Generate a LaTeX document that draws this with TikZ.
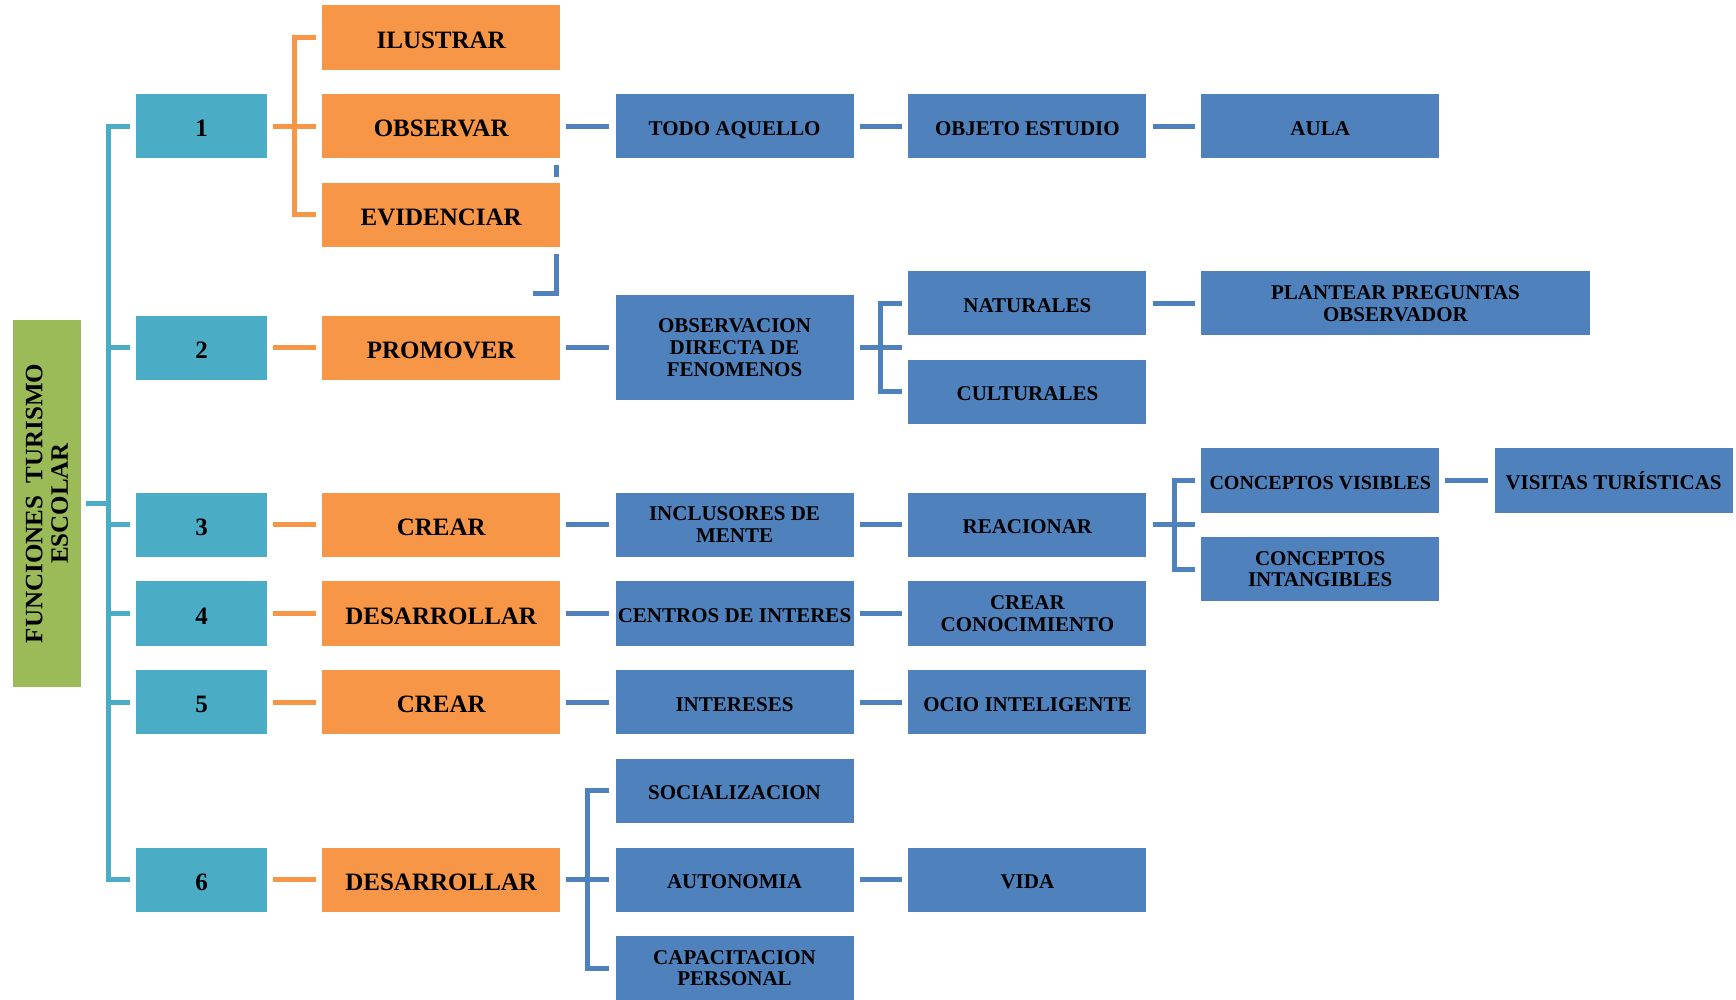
\documentclass[tikz,border=0pt]{standalone}
\usepackage{fontspec}
\setmainfont{Liberation Serif}
\definecolor{cteal}{HTML}{4BACC6}
\definecolor{corange}{HTML}{F79646}
\definecolor{cblue}{HTML}{4F81BD}
\definecolor{cgreen}{HTML}{9BBB59}
\begin{document}
\begin{tikzpicture}[x=1pt,y=-1pt,
  basebox/.style={rectangle, inner sep=0pt, minimum height=64.2pt, align=center, text=black,
    text depth=0pt, execute at begin node={\rule{0pt}{0.86em}}},
  tbox/.style={basebox, fill=cteal, minimum width=130.6pt, font=\fontsize{25}{26}\selectfont\bfseries},
  obox/.style={basebox, fill=corange, minimum width=238pt, font=\fontsize{25}{26}\selectfont\bfseries},
  bbox/.style={basebox, fill=cblue, minimum width=238pt, font=\fontsize{21}{21.6}\selectfont\bfseries},
  tline/.style={draw=cteal, line width=5pt},
  oline/.style={draw=corange, line width=5pt},
  bline/.style={draw=cblue, line width=5pt},
  gap/.style={shorten <=6pt, shorten >=6pt}
]
\useasboundingbox (0,0) rectangle (1736,999);

% root
\node[rectangle, rotate=90, fill=cgreen, inner sep=0pt, minimum width=367pt, minimum height=68pt,
      align=center, font=\fontsize{25}{25.5}\selectfont\bfseries] (root) at (47,503.5)
      {FUNCIONES\ \ TURISMO\\ESCOLAR};

% teal column
\node[tbox] (t1) at (201.5,126.1) {1};
\node[tbox] (t2) at (201.5,347.6) {2};
\node[tbox] (t3) at (201.5,524.8) {3};
\node[tbox] (t4) at (201.5,613.4) {4};
\node[tbox] (t5) at (201.5,702.0) {5};
\node[tbox] (t6) at (201.5,879.6) {6};

% orange column
\node[obox] (ilu) at (441.2,37.5) {ILUSTRAR};
\node[obox] (obs) at (441.2,126.1) {OBSERVAR};
\node[obox] (evi) at (441.2,214.7) {EVIDENCIAR};
\node[obox] (pro) at (441.2,347.6) {PROMOVER};
\node[obox] (cr1) at (441.2,524.8) {CREAR};
\node[obox] (de1) at (441.2,613.4) {DESARROLLAR};
\node[obox] (cr2) at (441.2,702.0) {CREAR};
\node[obox] (de2) at (441.2,879.6) {DESARROLLAR};

% blue column 3
\node[bbox] (todo) at (734.5,126.1) {TODO AQUELLO};
\node[bbox, minimum height=105pt] (odf) at (734.5,347.6) {OBSERVACION\\DIRECTA DE\\FENOMENOS};
\node[bbox] (inc) at (734.5,524.8) {INCLUSORES DE\\MENTE};
\node[bbox] (cen) at (734.5,613.4) {CENTROS DE INTERES};
\node[bbox] (int) at (734.5,702.0) {INTERESES};
\node[bbox] (soc) at (734.5,790.6) {SOCIALIZACION};
\node[bbox] (aut) at (734.5,879.6) {AUTONOMIA};
\node[bbox] (cap) at (734.5,968.2) {CAPACITACION\\PERSONAL};

% blue column 4
\node[bbox] (obj) at (1027.4,126.1) {OBJETO ESTUDIO};
\node[bbox] (nat) at (1027.4,303.3) {NATURALES};
\node[bbox] (cul) at (1027.4,391.9) {CULTURALES};
\node[bbox] (rea) at (1027.4,524.8) {REACIONAR};
\node[bbox] (ccn) at (1027.4,613.4) {CREAR\\CONOCIMIENTO};
\node[bbox] (oci) at (1027.4,702.0) {OCIO INTELIGENTE};
\node[bbox] (vid) at (1027.4,879.6) {VIDA};

% blue column 5
\node[bbox] (aul) at (1320.2,126.1) {AULA};
\node[bbox, minimum width=388.6pt] (pla) at (1395.5,303.3) {PLANTEAR PREGUNTAS\\OBSERVADOR};
\node[bbox, font=\fontsize{20}{21.6}\selectfont\bfseries] (cvi) at (1320.2,480.5) {CONCEPTOS VISIBLES};
\node[bbox] (cin) at (1320.2,569.1) {CONCEPTOS\\INTANGIBLES};

% blue column 6
\node[bbox] (vis) at (1613.6,480.5) {VISITAS TURÍSTICAS};

% junction coordinates
\coordinate (jt) at (108.5,503.5);
\coordinate (jo) at (294.5,126.1);
\coordinate (jb1) at (880.7,347.6);
\coordinate (jb2) at (1174.1,524.8);
\coordinate (jb3) at (587.9,879.6);

% teal connectors
\draw[tline] ([xshift=5pt]root.south) -- (jt);
\draw[tline] ([xshift=-6pt]t1.west) -| (jt) |- ([xshift=-6pt]t6.west);
\foreach \n in {t2,t3,t4,t5} \draw[tline] (\n.west -| jt) -- ([xshift=-6pt]\n.west);

% orange connectors
\draw[oline] ([xshift=6pt]t1.east) -- ([xshift=-6pt]obs.west);
\draw[oline] ([xshift=-6pt]ilu.west) -| (jo) |- ([xshift=-6pt]evi.west);
\draw[oline, gap] (t2.east) -- (pro.west);
\draw[oline, gap] (t3.east) -- (cr1.west);
\draw[oline, gap] (t4.east) -- (de1.west);
\draw[oline, gap] (t5.east) -- (cr2.west);
\draw[oline, gap] (t6.east) -- (de2.west);

% blue connectors
\draw[bline, gap] (obs.east) -- (todo.west);
\draw[bline, gap] (todo.east) -- (obj.west);
\draw[bline, gap] (obj.east) -- (aul.west);
\draw[bline, gap] (pro.east) -- (odf.west);
\draw[bline] ([xshift=6pt]odf.east) -- ([xshift=-6pt]odf.east -| nat.west);
\draw[bline] ([xshift=-6pt]nat.west) -| (jb1) |- ([xshift=-6pt]cul.west);
\draw[bline, gap] (nat.east) -- (nat.east -| pla.west);
\draw[bline, gap] (cr1.east) -- (inc.west);
\draw[bline, gap] (inc.east) -- (rea.west);
\draw[bline] ([xshift=6pt]rea.east) -- ([xshift=-6pt]rea.east -| cvi.west);
\draw[bline] ([xshift=-6pt]cvi.west) -| (jb2) |- ([xshift=-6pt]cin.west);
\draw[bline, gap] (cvi.east) -- (vis.west);
\draw[bline, gap] (de1.east) -- (cen.west);
\draw[bline, gap] (cen.east) -- (ccn.west);
\draw[bline, gap] (cr2.east) -- (int.west);
\draw[bline, gap] (int.east) -- (oci.west);
\draw[bline] ([xshift=6pt]de2.east) -- ([xshift=-6pt]aut.west);
\draw[bline] ([xshift=-6pt]soc.west) -| (jb3) |- ([xshift=-6pt]cap.west);
\draw[bline, gap] (aut.east) -- (vid.west);

% stray blue fragments
\coordinate (s1a) at (556,165);
\coordinate (s1b) at (556,177);
\coordinate (s2a) at (556,254);
\coordinate (s2b) at (556,293);
\coordinate (s2c) at (533,293);
\draw[bline] (s1a) -- (s1b);
\draw[bline] (s2a) -- (s2b) -- (s2c);
\end{tikzpicture}
\end{document}
